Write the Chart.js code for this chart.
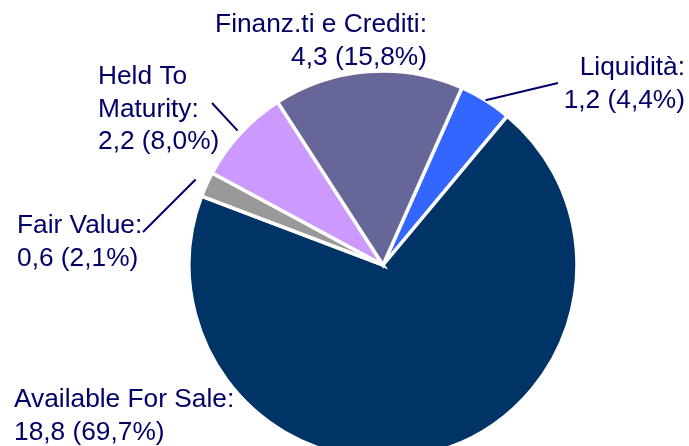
<!DOCTYPE html>
<html>
<head>
<meta charset="utf-8">
<script src="https://cdn.jsdelivr.net/npm/chart.js@4/dist/chart.umd.min.js"></script>
<style>
  html, body { margin: 0; padding: 0; background: #ffffff; overflow: hidden; }
  #wrap { position: relative; width: 689px; height: 446px; }
</style>
</head>
<body>
<div id="wrap"><canvas id="chart"></canvas></div>
<script>
// Dati (clockwise from the Liquidità slice)
const categories = ["Liquidità", "Available For Sale", "Fair Value", "Held To Maturity", "Finanz.ti e Crediti"];
const values = [1.2, 18.8, 0.6, 2.2, 4.3];
const percents = [4.4, 69.7, 2.1, 8.0, 15.8];
const sliceColors = ["#3366ff", "#003366", "#999999", "#cc99ff", "#666699"];

const textColor = "#000066";
const fontSpec = "26.3px 'Liberation Sans', Arial, sans-serif";
const lineH = 32.5;

// label lines (comma decimal, as in the original)
const fmt = v => v.toFixed(1).replace(".", ",");
const labelLines = [
  ["Liquidità:", fmt(values[0]) + " (" + fmt(percents[0]) + "%)"],
  ["Available For Sale:", fmt(values[1]) + " (" + fmt(percents[1]) + "%)"],
  ["Fair Value:", fmt(values[2]) + " (" + fmt(percents[2]) + "%)"],
  ["Held To", "Maturity:", fmt(values[3]) + " (" + fmt(percents[3]) + "%)"],
  ["Finanz.ti e Crediti:", fmt(values[4]) + " (" + fmt(percents[4]) + "%)"]
];

// where each label sits + leader line end (layout only)
const labelLayout = [
  { x: 685, y: 75, align: "right", lead: { x: 558, y: 83, extra: 0 } },
  { x: 14, y: 407, align: "left", lead: null },
  { x: 17, y: 233, align: "left", lead: { x: 143, y: 232, extra: 12 } },
  { x: 98, y: 84, align: "left", lead: { x: 212, y: 103, extra: 4 } },
  { x: 427, y: 32, align: "right", lead: null }
];

const pieLabels = {
  id: "pieLabels",
  afterDatasetsDraw(chart) {
    const ctx = chart.ctx;
    const arcs = chart.getDatasetMeta(0).data;
    ctx.save();
    ctx.font = fontSpec;
    ctx.fillStyle = textColor;
    ctx.strokeStyle = textColor;
    ctx.lineWidth = 2;
    ctx.textBaseline = "alphabetic";
    arcs.forEach((arc, i) => {
      const lay = labelLayout[i];
      if (lay.lead) {
        const p = arc.getProps(["x", "y", "startAngle", "endAngle", "outerRadius"], true);
        const mid = (p.startAngle + p.endAngle) / 2;
        const r = p.outerRadius + lay.lead.extra;
        ctx.beginPath();
        ctx.moveTo(p.x + Math.cos(mid) * r, p.y + Math.sin(mid) * r);
        ctx.lineTo(lay.lead.x, lay.lead.y);
        ctx.stroke();
      }
      ctx.textAlign = lay.align;
      labelLines[i].forEach((t, k) => ctx.fillText(t, lay.x, lay.y + k * lineH));
    });
    ctx.restore();
  }
};

new Chart(document.getElementById("chart"), {
  type: "pie",
  data: {
    labels: categories,
    datasets: [{
      data: percents,
      backgroundColor: sliceColors,
      borderColor: "#ffffff",
      borderWidth: 3.5,
      borderJoinStyle: "miter"
    }]
  },
  options: {
    responsive: true,
    maintainAspectRatio: false,
    animation: false,
    rotation: 24,
    radius: 194,
    layout: { padding: { left: 77, right: 0, top: 84, bottom: 0 } },
    plugins: {
      legend: { display: false },
      tooltip: { enabled: false }
    }
  },
  plugins: [pieLabels]
});
</script>
</body>
</html>
